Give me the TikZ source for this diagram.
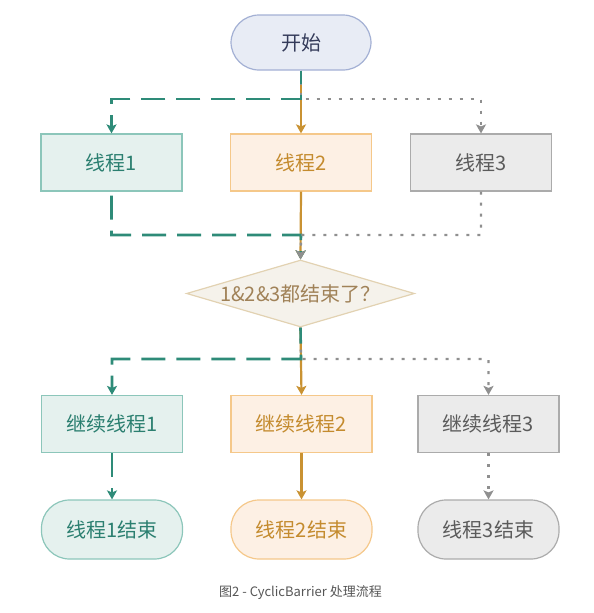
\documentclass[tikz,border=0pt]{standalone}
\usepackage{fontspec}
\usetikzlibrary{shapes.geometric,arrows.meta,positioning}
\newfontfamily\cjk{Noto Sans CJK SC}
\definecolor{startfill}{HTML}{E8ECF5}
\definecolor{startline}{HTML}{A3B0D4}
\definecolor{starttext}{HTML}{343B5A}
\definecolor{gfill}{HTML}{E5F1EE}
\definecolor{gline}{HTML}{8CC6BA}
\definecolor{gtext}{HTML}{2B7F70}
\definecolor{gpath}{HTML}{2E8B78}
\definecolor{ofill}{HTML}{FDF0E4}
\definecolor{oline}{HTML}{F5C88A}
\definecolor{otext}{HTML}{C48B2E}
\definecolor{opath}{HTML}{C99232}
\definecolor{kfill}{HTML}{EBEBEB}
\definecolor{kline}{HTML}{ABABAB}
\definecolor{ktext}{HTML}{5B5B5B}
\definecolor{kpath}{HTML}{8F8F8F}
\definecolor{dfill}{HTML}{F5F2EB}
\definecolor{dline}{HTML}{E2D2B2}
\definecolor{dtext}{HTML}{A08258}
\definecolor{captext}{HTML}{555555}

\begin{document}
\begin{tikzpicture}[x=1pt, y=-1pt,
  every node/.style={font=\cjk\fontsize{20}{22}\selectfont},
  tip/.style={-{Stealth[inset=2pt,length=9pt,width=10pt]}},
  threadbox/.style={draw, line width=1.2pt, minimum width=141pt, minimum height=57pt, inner sep=0pt},
  stopbox/.style={threadbox, rounded corners=28pt, minimum height=59pt},
  greenbox/.style={fill=gfill, draw=gline, text=gtext},
  orangebox/.style={fill=ofill, draw=oline, text=otext},
  graybox/.style={fill=kfill, draw=kline, text=ktext},
  greenpath/.style={tip, gpath, line width=2.6pt, dash pattern=on 24pt off 11pt},
  orangepath/.style={tip, opath, line width=2.2pt},
  graypath/.style={tip, kpath, line width=2.4pt, dash pattern=on 3pt off 8pt}]
  \useasboundingbox (0,0) rectangle (594,613);

  % Start
  \node[threadbox, stopbox, minimum width=140pt, minimum height=55pt,
    fill=startfill, draw=startline, text=starttext] (start) at (301,42.5) {开始};

  % Threads
  \node[threadbox, greenbox] (t1) at (111.5,162.5) {线程1};
  \node[threadbox, orangebox] (t2) at (301,162.5) {线程2};
  \node[threadbox, graybox] (t3) at (481,162.5) {线程3};

  % Barrier check
  \node[diamond, draw=dline, fill=dfill, line width=1.2pt, aspect=3.4, inner sep=0pt,
    minimum width=228pt, minimum height=67pt,
    label={[text=dtext]center:1\&2\&3都结束了？}] (check) at (300.5,293.5) {};

  % Continue
  \node[threadbox, greenbox] (c1) at (112,424) {继续线程1};
  \node[threadbox, orangebox] (c2) at (301.5,424) {继续线程2};
  \node[threadbox, graybox] (c3) at (488.5,424) {继续线程3};

  % Ends
  \node[stopbox, greenbox] (e1) at (112,529.5) {线程1结束};
  \node[stopbox, orangebox] (e2) at (301.5,529.5) {线程2结束};
  \node[stopbox, graybox] (e3) at (488.5,529.5) {线程3结束};

  % Junctions
  \coordinate (jtop) at (301,99);
  \coordinate (jbot) at (301,235);
  \coordinate (jmid) at (301,359);

  % Start -> threads
  \draw[orangepath] (start.south) -- (t2.north);
  \draw[graypath] (start.south) -- (jtop) -| (t3.north);
  \draw[greenpath, dash phase=11pt] (start.south) -- (jtop) -| (t1.north);

  % Threads -> check
  \draw[orangepath] (t2.south) -- (check.north);
  \draw[greenpath, dash phase=31pt] (t1.south) |- (jbot) -- (check.north);
  \draw[graypath] (t3.south) |- (jbot) -- (check.north);

  % Check -> continue
  \draw[orangepath] (check.south) -- (c2.north);
  \draw[graypath] (check.south) -- (jmid) -| (c3.north);
  \draw[greenpath, dash phase=8pt] (check.south) -- (jmid) -| (c1.north);

  % Continue -> ends
  \draw[greenpath] (c1.south) -- (e1.north);
  \draw[orangepath] (c2.south) -- (e2.north);
  \draw[graypath] (c3.south) -- (e3.north);

  % Caption
  \node[font=\cjk\fontsize{13}{15}\selectfont, text=captext] (cap) at (300.5,593)
    {图2 - CyclicBarrier 处理流程};
\end{tikzpicture}
\end{document}
